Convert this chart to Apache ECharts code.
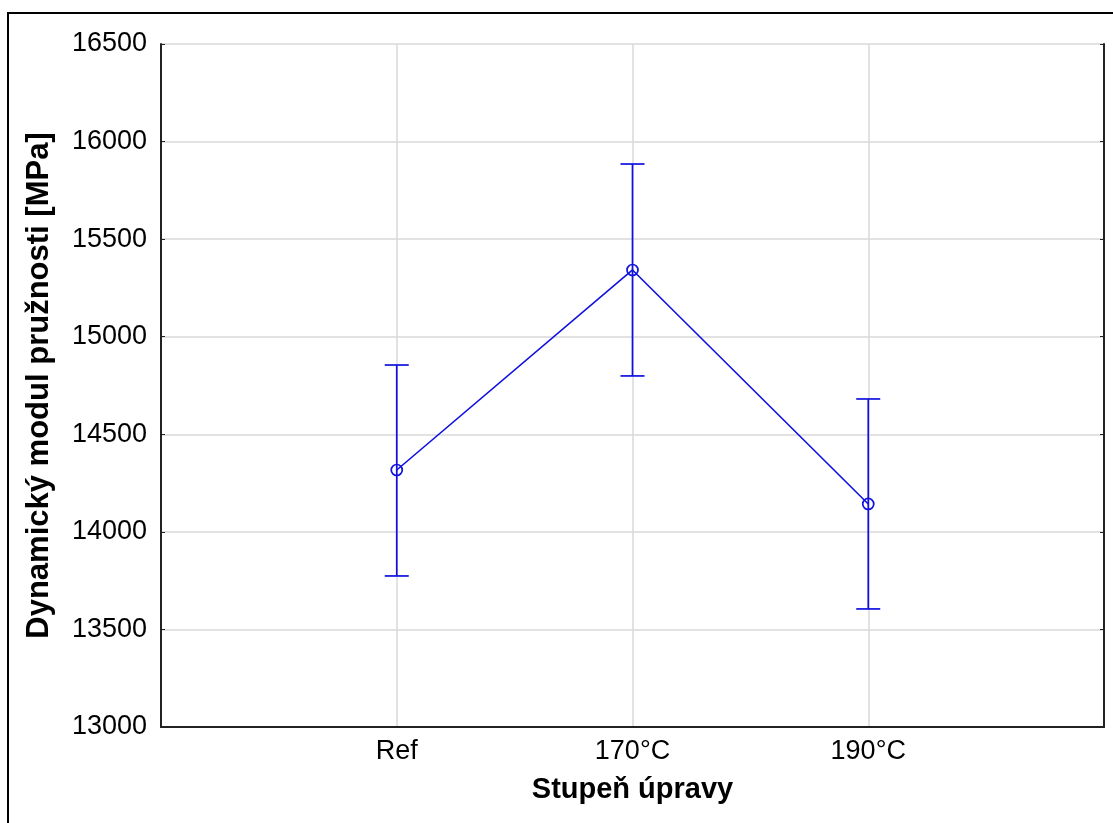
<!DOCTYPE html>
<html>
<head>
<meta charset="utf-8">
<script src="https://cdn.jsdelivr.net/npm/echarts@6/dist/echarts.min.js"></script>
<style>html,body{margin:0;padding:0;background:#fff}#c{width:1113px;height:823px}</style>
</head>
<body>
<div id="c"></div>
<script>
var categories = ['Ref', '170°C', '190°C'];
var means = [14317, 15342, 14143];
var upper = [14855, 15885, 14681];
var lower = [13774, 14799, 13605];
var yTicks = [13000, 13500, 14000, 14500, 15000, 15500, 16000, 16500];

var chart = echarts.init(document.getElementById('c'), null, {renderer: 'canvas'});
var font = '"Liberation Sans", Arial, sans-serif';
var blue = '#1010e0';

var lineData = means.map(function (v, i) { return [i + 1, v]; });
var errData = means.map(function (v, i) { return [i + 1, lower[i], upper[i]]; });

chart.setOption({
  animation: false,
  backgroundColor: '#fff',
  graphic: [{
    type: 'rect', shape: {x: 8, y: 13, width: 1200, height: 900},
    style: {fill: 'none', stroke: '#000', lineWidth: 2}, silent: true, z: 100
  }],
  grid: {left: 161, right: 9, top: 44, bottom: 96, containLabel: false},
  xAxis: {
    type: 'value', min: 0, max: 4, interval: 1,
    name: 'Stupeň úpravy', nameLocation: 'middle', nameGap: 48,
    nameTextStyle: {fontFamily: font, fontSize: 29, fontWeight: 'bold', color: '#000'},
    axisLine: {show: true, lineStyle: {color: '#222', width: 2}},
    axisTick: {show: false},
    axisLabel: {
      fontFamily: font, fontSize: 27, color: '#000', margin: 11,
      formatter: function (v) { return categories[v - 1] || ''; }
    },
    splitLine: {show: true, lineStyle: {color: '#d8d8d8', width: 1.5}}
  },
  yAxis: [{
    type: 'value', min: 13000, max: 16500, interval: 500,
    name: 'Dynamický modul pružnosti [MPa]', nameLocation: 'middle', nameGap: 106,
    nameTextStyle: {fontFamily: font, fontSize: 31, fontWeight: 'bold', color: '#000'},
    axisLine: {show: true, lineStyle: {color: '#222', width: 2}},
    axisTick: {show: true, inside: true, length: 4, lineStyle: {color: '#222'}},
    axisLabel: {fontFamily: font, fontSize: 27, color: '#000', margin: 14,
      formatter: function (v) { return yTicks.indexOf(v) >= 0 ? String(v) : ''; }},
    splitLine: {show: true, lineStyle: {color: '#d8d8d8', width: 1.5}}
  }, {
    type: 'value', min: 13000, max: 16500, interval: 500, position: 'right',
    axisLine: {show: true, lineStyle: {color: '#222', width: 2}},
    axisTick: {show: true, inside: true, length: 4, lineStyle: {color: '#222'}},
    axisLabel: {show: false}, splitLine: {show: false}
  }],
  series: [{
    type: 'custom',
    data: errData,
    renderItem: function (params, api) {
      var x = api.value(0);
      var lo = api.coord([x, api.value(1)]);
      var hi = api.coord([x, api.value(2)]);
      var w = 12;
      var st = {stroke: blue, lineWidth: 1.7, fill: 'none'};
      return {
        type: 'group',
        children: [
          {type: 'line', shape: {x1: lo[0], y1: lo[1], x2: hi[0], y2: hi[1]}, style: st},
          {type: 'line', shape: {x1: lo[0] - w, y1: lo[1], x2: lo[0] + w, y2: lo[1]}, style: st},
          {type: 'line', shape: {x1: hi[0] - w, y1: hi[1], x2: hi[0] + w, y2: hi[1]}, style: st}
        ]
      };
    },
    z: 3
  }, {
    type: 'line',
    data: lineData,
    symbol: 'circle', symbolSize: 11,
    itemStyle: {color: 'rgba(255,255,255,0)', borderColor: blue, borderWidth: 1.7},
    lineStyle: {color: blue, width: 1.6},
    z: 4
  }]
});
</script>
</body>
</html>
